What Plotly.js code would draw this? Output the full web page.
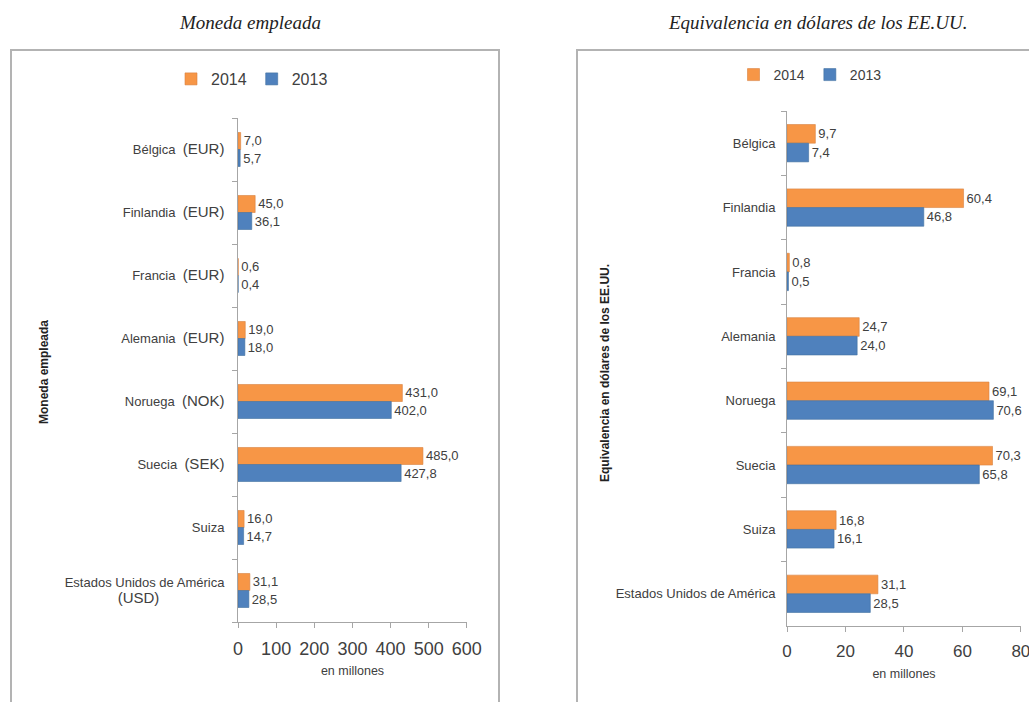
<!DOCTYPE html>
<html>
<head>
<meta charset="utf-8">
<script src="https://cdn.plot.ly/plotly-3.0.1.min.js"></script>
<style>html,body{margin:0;padding:0;background:#fff;}#chart{width:1029px;height:702px;}</style>
</head>
<body>
<div id="chart"></div>
<script>
// Data
const countries = ["Bélgica","Finlandia","Francia","Alemania","Noruega","Suecia","Suiza","Estados Unidos de América"];
const currencies = ["EUR","EUR","EUR","EUR","NOK","SEK","","USD"];
const local2014 = [7.0, 45.0, 0.6, 19.0, 431.0, 485.0, 16.0, 31.1];
const local2013 = [5.7, 36.1, 0.4, 18.0, 402.0, 427.8, 14.7, 28.5];
const usd2014 = [9.7, 60.4, 0.8, 24.7, 69.1, 70.3, 16.8, 31.1];
const usd2013 = [7.4, 46.8, 0.5, 24.0, 70.6, 65.8, 16.1, 28.5];
const leftTicks = [0,100,200,300,400,500,600];
const rightTicks = [0,20,40,60,80];

const ORANGE = "#F79646", BLUE = "#4F81BD";
const txtFont = {family: "Liberation Sans, Arial, sans-serif", size: 13, color: "#404040"};

const leftTickText = countries.map((c, i) => {
  const cur = currencies[i];
  if (!cur) return c;
  if (i === countries.length - 1) {
    return c + "<br><span style=\"font-size:15px\">(" + cur + ")</span>" + "\u00a0".repeat(18);
  }
  return c + "\u00a0\u00a0<span style=\"font-size:15px\">(" + cur + ")</span>";
});

function barTrace(name, vals, color, xa, ya, leg, bw, first) {
  return {
    type: "bar", orientation: "h", name: name,
    y: countries, x: vals, xaxis: xa, yaxis: ya, legend: leg, showlegend: true,
    width: bw, offset: first ? -bw : 0,
    marker: {color: color, line: {color: color === ORANGE ? "#d9823f" : "#41709f", width: 0.6}},
    texttemplate: "%{x:.1f}", textposition: "outside", cliponaxis: false,
    textfont: txtFont, hoverinfo: "x+y"
  };
}

const data = [
  barTrace("2014", local2014, ORANGE, "x", "y", "legend", 0.27, true),
  barTrace("2013", local2013, BLUE, "x", "y", "legend", 0.27, false),
  barTrace("2014", usd2014, ORANGE, "x2", "y2", "legend2", 0.29, true),
  barTrace("2013", usd2013, BLUE, "x2", "y2", "legend2", 0.29, false)
];

const W = 1029, H = 702;
const px = v => v / W, py = v => 1 - v / H;

const axisCommon = {
  showgrid: false, zeroline: false, showline: true, linecolor: "#a6a6a6", linewidth: 1,
  ticks: "outside", tickcolor: "#a6a6a6", ticklen: 5, ticklabeloverflow: "allow"
};

const layout = {
  width: W, height: H, margin: {l: 0, r: 0, t: 0, b: 0},
  paper_bgcolor: "#fff", plot_bgcolor: "rgba(0,0,0,0)",
  separators: ",.",
  barmode: "overlay",
  font: {family: "Liberation Sans, Arial, sans-serif", color: "#404040"},
  xaxis: Object.assign({}, axisCommon, {
    domain: [px(238), px(467)], anchor: "y", range: [0, 600.5], tickvals: leftTicks,
    tickfont: {size: 18, color: "#404040"}, ticklabelstandoff: 5,
    title: {text: "en millones", font: {size: 12.5, color: "#404040"}, standoff: 8}
  }),
  yaxis: Object.assign({}, axisCommon, {
    domain: [py(622), py(118)], anchor: "x", autorange: "reversed", type: "category",
    tickson: "boundaries", tickvals: countries, ticktext: leftTickText, ticklabelstandoff: 10,
    tickfont: {size: 13, color: "#404040"}
  }),
  xaxis2: Object.assign({}, axisCommon, {
    domain: [px(787), px(1021)], anchor: "y2", range: [0, 80.05], tickvals: rightTicks,
    tickfont: {size: 17, color: "#404040"}, ticklabelstandoff: 5,
    title: {text: "en millones", font: {size: 12.5, color: "#404040"}, standoff: 8}
  }),
  yaxis2: Object.assign({}, axisCommon, {
    domain: [py(626), py(111)], anchor: "x2", autorange: "reversed", type: "category",
    tickson: "boundaries", tickfont: {size: 13, color: "#404040"}, ticklabelstandoff: 8
  }),
  legend: {orientation: "h", x: px(252), y: py(79), xanchor: "center", yanchor: "middle",
    font: {size: 16, color: "#404040"}, bgcolor: "rgba(0,0,0,0)", itemwidth: 30, tracegroupgap: 0},
  legend2: {orientation: "h", x: px(810), y: py(75), xanchor: "center", yanchor: "middle",
    font: {size: 14, color: "#404040"}, bgcolor: "rgba(0,0,0,0)", itemwidth: 30},
  shapes: [
    {type: "rect", xref: "paper", yref: "paper", x0: px(11), x1: px(499), y0: py(720), y1: py(50),
      line: {color: "#b3b3b3", width: 2}, layer: "below"},
    {type: "rect", xref: "paper", yref: "paper", x0: px(577), x1: px(1040), y0: py(720), y1: py(50),
      line: {color: "#b3b3b3", width: 2}, layer: "below"}
  ],
  annotations: [
    {text: "<i>Moneda empleada</i>", xref: "paper", yref: "paper", x: px(250), y: py(22),
      xanchor: "center", yanchor: "middle",
      showarrow: false, font: {family: "Liberation Serif, serif", size: 19, color: "#222"}},
    {text: "<i>Equivalencia en dólares de los EE.UU.</i>", xref: "paper", yref: "paper", x: px(817), y: py(22),
      xanchor: "center", yanchor: "middle",
      showarrow: false, font: {family: "Liberation Serif, serif", size: 19, color: "#222"}},
    {text: "<b>Moneda empleada</b>", xref: "paper", yref: "paper", x: px(44), y: py(372), textangle: -90,
      xanchor: "center", yanchor: "middle",
      showarrow: false, font: {size: 12, color: "#222"}},
    {text: "<b>Equivalencia en dólares de los EE.UU.</b>", xref: "paper", yref: "paper", x: px(605), y: py(373), textangle: -90,
      xanchor: "center", yanchor: "middle",
      showarrow: false, font: {size: 12, color: "#222"}}
  ]
};

Plotly.newPlot("chart", data, layout, {displayModeBar: false, staticPlot: true});
</script>
</body>
</html>
